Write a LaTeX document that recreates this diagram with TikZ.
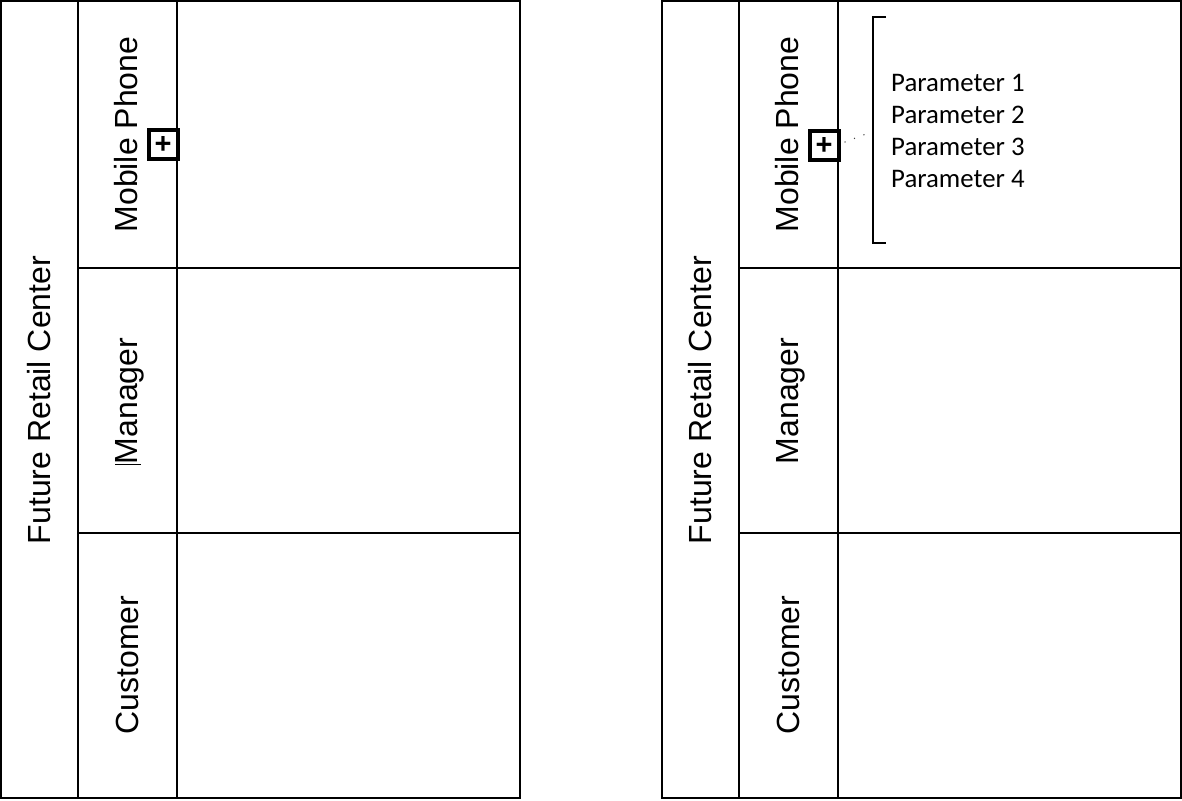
\documentclass[tikz,border=0pt]{standalone}
\usepackage{fontspec}
\setmainfont{Liberation Sans}
\newfontfamily\calib{Carlito}
\begin{document}
\begin{tikzpicture}[x=1pt,y=-1pt,
  frame/.style={draw=black,line width=2pt},
  lane/.style={rotate=90,anchor=base,inner sep=0pt,font=\fontsize{32}{38}\selectfont},
  plusbox/.style={draw=black,line width=4pt,minimum size=29pt,inner sep=0pt,fill=white,font=\fontsize{29}{29}\selectfont\bfseries},
  param/.style={anchor=base west,inner sep=0pt,font=\calib\fontsize{26.8}{30}\selectfont},
  brack/.style={draw=black,line width=1.8pt},
  dots/.style={draw=black!75,line width=1.4pt,line cap=round,dash pattern=on 0.1pt off 10pt}]
\useasboundingbox (0,0) rectangle (1182,800);
% ---------- left diagram ----------
\draw[frame] (1,1) rectangle (520,798);
\draw[frame] (78,1) -- (78,798);
\draw[frame] (177,1) -- (177,798);
\draw[frame] (78,268) -- (520,268);
\draw[frame] (78,533) -- (520,533);
\node[lane] (lfrc) at (50,400) {Future Retail Center};
\node[lane] (lmob) at (137,134.5) {Mobile Phone};
\node[lane] (lman) at (137,401) {Manager};
\node[lane] (lcus) at (138,665) {Customer};
\draw[line width=1.6pt] (115,464.3) -- (141,464.3);
\node[plusbox] (lplus) at (163,144.5) {+};
% ---------- right diagram ----------
\draw[frame] (662,1) rectangle (1181,798);
\draw[frame] (739,1) -- (739,798);
\draw[frame] (838,1) -- (838,798);
\draw[frame] (739,268) -- (1181,268);
\draw[frame] (739,533) -- (1181,533);
\node[lane] (rfrc) at (711,400) {Future Retail Center};
\node[lane] (rmob) at (798,134.5) {Mobile Phone};
\node[lane] (rman) at (798,401) {Manager};
\node[lane] (rcus) at (799,665) {Customer};
\node[plusbox] (rplus) at (824,145.5) {+};
\coordinate (bt) at (886,17);
\coordinate (bb) at (886,243);
\draw[brack] (bt) -- (873,17) -- (873,243) -- (bb);
\coordinate (bm) at (866,134);
\coordinate (dstart) at (845,142);
\draw[dots] (dstart) -- (bm);
\node[param] (p1) at (891,91) {Parameter 1};
\node[param] (p2) at (891,123) {Parameter 2};
\node[param] (p3) at (891,155) {Parameter 3};
\node[param] (p4) at (891,187) {Parameter 4};
\end{tikzpicture}
\end{document}
